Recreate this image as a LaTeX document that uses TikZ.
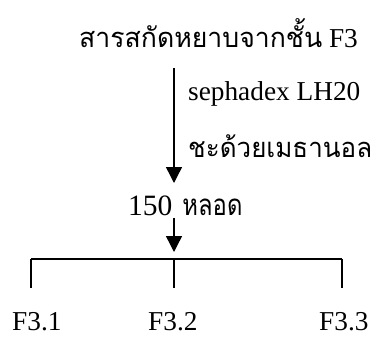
\documentclass[tikz,border=0pt]{standalone}
\usepackage{fontspec}
\usepackage{graphicx}
\setmainfont{Liberation Serif}
\newfontfamily\thaifont[Script=Thai]{Loma}
\newcommand\thaiw[2]{\resizebox{#1}{\height}{\thaifont #2}}
\usetikzlibrary{arrows.meta}
\begin{document}
\begin{tikzpicture}[x=1pt,y=1pt,
  txt/.style={inner sep=0pt, anchor=base west, font=\fontsize{27.3}{31}\selectfont},
  line/.style={line width=1.4pt},
  arr/.style={line width=1.4pt,-{Triangle[width=16pt,length=16pt]}}]
\useasboundingbox (0,0) rectangle (374,338);
\node[txt] (title) at (79,290) {\thaiw{243pt}{สารสกัดหยาบจากชั้น} F3};
\node[txt] (seph) at (188,238) {sephadex LH20};
\node[txt] (meth) at (188,181) {\thaiw{184pt}{ชะด้วยเมธานอล}};
\node[txt, font=\fontsize{29.5}{33}\selectfont] (n150) at (128,123) {150\hspace{10pt}\thaiw{60pt}{หลอด}};
\node[txt] (f1) at (12,8) {F3.1};
\node[txt] (f2) at (148,8) {F3.2};
\node[txt] (f3) at (319,8) {F3.3};
\coordinate (a1s) at (174,270);
\coordinate (a1e) at (174,155);
\coordinate (a2s) at (174,120);
\coordinate (a2e) at (174,86);
\coordinate (bl) at (31,79);
\coordinate (bm) at (174,79);
\coordinate (br) at (342,79);
\coordinate (dl) at (31,50);
\coordinate (dm) at (174,50);
\coordinate (dr) at (342,50);
\draw[arr] (a1s) -- (a1e);
\draw[arr] (a2s) -- (a2e);
\draw[line] (bl) -- (br);
\draw[line] (bl) -- (dl);
\draw[line] (bm) -- (dm);
\draw[line] (br) -- (dr);
\end{tikzpicture}
\end{document}
